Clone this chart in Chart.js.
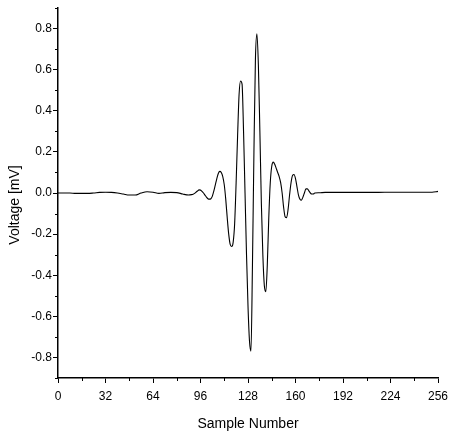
<!DOCTYPE html>
<html>
<head>
<meta charset="utf-8">
<script src="https://cdn.jsdelivr.net/npm/chart.js@4/dist/chart.umd.min.js"></script>
<style>
  html, body { margin: 0; padding: 0; background: #fff; }
  #wrap { width: 449px; height: 432px; }
</style>
</head>
<body>
<div id="wrap"><canvas id="graph-box"></canvas></div>
<script>
// sample index / voltage (sparse where the trace is flat)
const sampleIdx = [0, 4, 8, 12, 16, 20, 24, 28, 32, 36, 40, 44, 48, 52, 56, 60, 64, 68, 72, 76, 80, 84, 88,
  90, 91, 92, 93, 94, 95, 96, 97, 98, 99, 100, 101, 102, 103, 104, 105, 106, 107, 108, 109, 110,
  111, 112, 113, 114, 115, 116, 117, 118, 119, 120, 121, 122, 123, 124, 125, 126, 127, 128, 129, 130,
  131, 132, 133, 134, 135, 136, 137, 138, 139, 140, 141, 142, 143, 144, 145, 146, 147, 148, 149, 150,
  151, 152, 153, 154, 155, 156, 157, 158, 159, 160, 161, 162, 163, 164, 165, 166, 167, 168, 169, 170,
  171, 172, 173, 176, 180, 184, 192, 200, 208, 216, 224, 232, 240, 248, 252, 256];
const voltage = [0.0, 0.0, 0.0, -0.002, -0.002, -0.002, 0.0, 0.003, 0.004, 0.003, 0.0, -0.005, -0.01, -0.01, 0.0, 0.006, 0.004, -0.002, 0.002, 0.003, 0.002, -0.005, -0.01,
  -0.008, -0.006, -0.002, 0.004, 0.01, 0.015, 0.014, 0.008, 0.0, -0.01, -0.02, -0.028, -0.03, -0.028, -0.015, 0.01, 0.04, 0.07, 0.095, 0.105, 0.1,
  0.08, 0.04, -0.03, -0.12, -0.2, -0.25, -0.26, -0.24, -0.15, 0.05, 0.28, 0.48, 0.545, 0.53, 0.3, 0.0, -0.3, -0.55, -0.72, -0.77,
  -0.35, 0.2, 0.65, 0.775, 0.62, 0.3, -0.05, -0.3, -0.45, -0.48, -0.35, -0.12, 0.05, 0.13, 0.15, 0.14, 0.12, 0.1, 0.08, 0.05,
  0.0, -0.07, -0.115, -0.12, -0.08, -0.01, 0.05, 0.085, 0.09, 0.07, 0.03, -0.01, -0.03, -0.035, -0.02, 0.0, 0.02, 0.02, 0.01, 0.0,
  -0.005, -0.005, 0.0, 0.001, 0.003, 0.003, 0.003, 0.003, 0.003, 0.003, 0.004, 0.004, 0.004, 0.004, 0.004, 0.008];

const xTicks = [0, 32, 64, 96, 128, 160, 192, 224, 256];
const yTicks = [-0.8, -0.6, -0.4, -0.2, 0.0, 0.2, 0.4, 0.6, 0.8];
const xMinor = [16, 48, 80, 112, 144, 176, 208, 240];
const yMinor = [-0.9, -0.7, -0.5, -0.3, -0.1, 0.1, 0.3, 0.5, 0.7, 0.9];

const ctx = document.getElementById('graph-box');
const FONT = 'Liberation Sans, Arial, sans-serif';

// chart.js has no minor ticks, so draw the short ones by hand (+ axis titles where the original has them)
const extras = {
  id: 'extras',
  afterDraw(chart) {
    const c = chart.ctx;
    const xs = chart.scales.x, ys = chart.scales.y;
    c.save();
    c.strokeStyle = '#000';
    c.lineWidth = 1;
    c.beginPath();
    xMinor.forEach(v => {
      const px = Math.round(xs.getPixelForValue(v)) + 0.5;
      c.moveTo(px, ys.bottom);
      c.lineTo(px, ys.bottom + 3);
    });
    yMinor.forEach(v => {
      const py = Math.round(ys.getPixelForValue(v)) + 0.5;
      c.moveTo(xs.left, py);
      c.lineTo(xs.left - 3, py);
    });
    c.stroke();

    c.fillStyle = '#000';
    c.font = '14px ' + FONT;
    c.textAlign = 'center';
    c.textBaseline = 'middle';
    c.fillText('Sample Number', (xs.left + xs.right) / 2, 424);
    c.translate(15, 205);
    c.rotate(-Math.PI / 2);
    c.fillText('Voltage [mV]', 0, 0);
    c.restore();
  }
};

const myChart = new Chart(ctx, {
  type: 'line',
  data: {
    datasets: [{
      data: sampleIdx.map((s, i) => ({ x: s, y: voltage[i] })),
      borderColor: '#000',
      borderWidth: 1.1,
      pointRadius: 0,
      cubicInterpolationMode: 'monotone',
      fill: false
    }]
  },
  options: {
    responsive: true,
    maintainAspectRatio: false,
    animation: false,
    layout: { padding: { top: 8, right: 11, left: 0, bottom: 0 } },
    plugins: {
      legend: { display: false },
      tooltip: { enabled: false }
    },
    scales: {
      x: {
        type: 'linear',
        min: 0,
        max: 256,
        afterBuildTicks: s => { s.ticks = xTicks.map(v => ({ value: v })); },
        afterFit: s => { s.height = 54; s.paddingLeft = 0; s.paddingRight = 0; },
        grid: { drawOnChartArea: false, drawTicks: true, tickLength: 5, tickColor: '#000' },
        border: { display: true, color: '#000', width: 1.5 },
        ticks: {
          color: '#000',
          padding: 6,
          maxRotation: 0,
          font: { family: FONT, size: 12 }
        }
      },
      y: {
        min: -0.9,
        max: 0.9,
        afterBuildTicks: s => { s.ticks = yTicks.map(v => ({ value: v })); },
        afterFit: s => { s.width = 58; s.paddingTop = 0; s.paddingBottom = 0; },
        grid: { drawOnChartArea: false, drawTicks: true, tickLength: 5, tickColor: '#000' },
        border: { display: true, color: '#000', width: 1.5 },
        ticks: {
          color: '#000',
          padding: 1,
          font: { family: FONT, size: 12 },
          callback: v => v.toFixed(1)
        }
      }
    }
  },
  plugins: [extras]
});
</script>
</body>
</html>
